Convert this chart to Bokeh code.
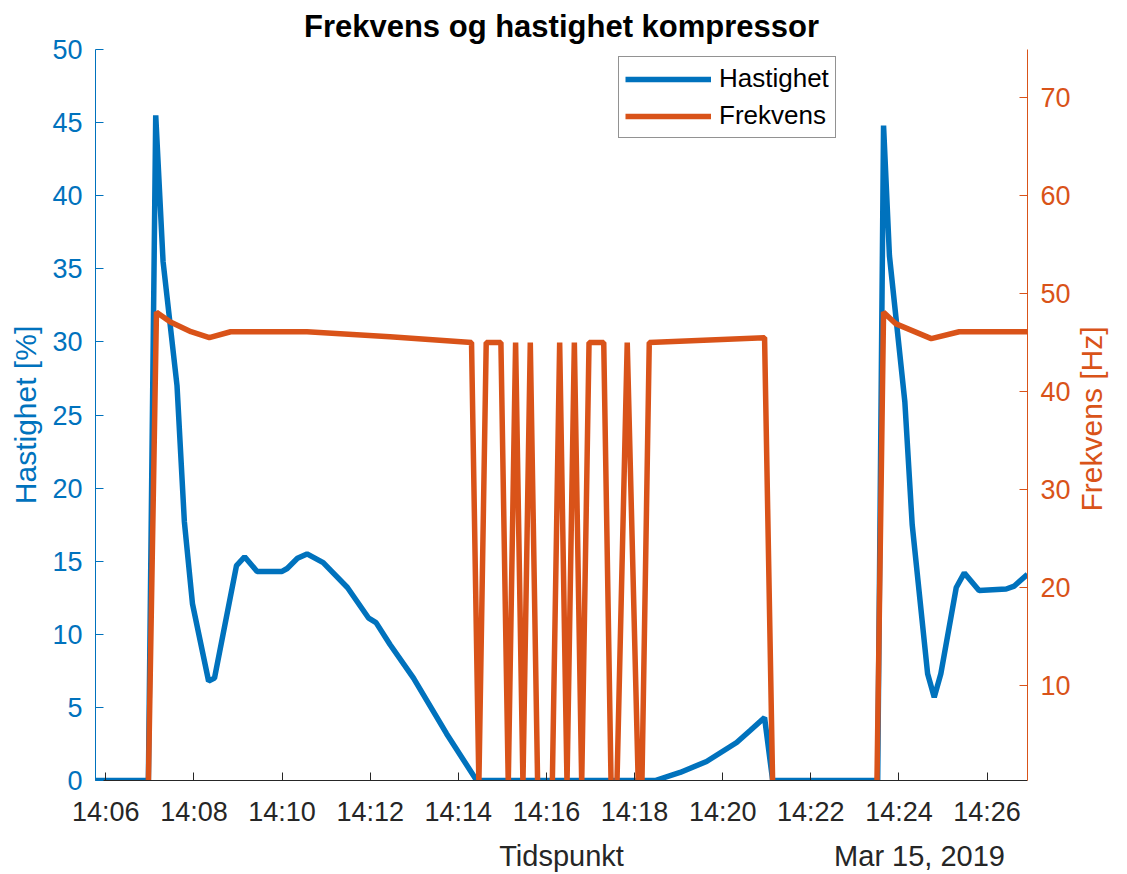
import math
import pandas as pd
from bokeh.plotting import figure
from bokeh.models import (Range1d, LinearAxis, FixedTicker, DatetimeTickFormatter,
                          Legend, LegendItem)
from bokeh.embed import file_html
from bokeh.resources import INLINE

DAY = "2019-03-15 "

# Compressor speed [%] (left axis)
hastighet_tid = ["14:05:46", "14:06:58", "14:07:08", "14:07:18", "14:07:37", "14:07:47",
                 "14:07:58", "14:08:20", "14:08:28", "14:08:58", "14:09:09", "14:09:26",
                 "14:10:00", "14:10:07", "14:10:21", "14:10:34", "14:10:56", "14:11:29",
                 "14:11:58", "14:12:08", "14:12:27", "14:12:59", "14:13:44", "14:14:25",
                 "14:18:28", "14:19:02", "14:19:38", "14:20:19", "14:20:37", "14:20:57",
                 "14:21:08", "14:23:31", "14:23:39", "14:23:47", "14:24:08", "14:24:18",
                 "14:24:39", "14:24:48", "14:24:57", "14:25:18", "14:25:29", "14:25:49",
                 "14:26:26", "14:26:37", "14:26:55"]
hastighet_pct = [0, 0, 45.5, 35.5, 27.0, 17.7,
                 12.1, 6.8, 7.0, 14.7, 15.3, 14.3,
                 14.3, 14.5, 15.2, 15.5, 14.9, 13.2,
                 11.1, 10.8, 9.3, 7.0, 3.2, 0,
                 0, 0.55, 1.3, 2.6, 3.4, 4.3,
                 0, 0, 44.8, 35.9, 25.9, 17.5,
                 7.3, 5.7, 7.3, 13.2, 14.2, 13.0,
                 13.1, 13.3, 14.1]

# Compressor frequency [Hz] (right axis)
frekvens_tid = ["14:05:46", "14:06:58", "14:07:09", "14:07:28", "14:07:56", "14:08:21",
                "14:08:50", "14:09:17", "14:10:34", "14:12:27", "14:14:18", "14:14:28",
                "14:14:38", "14:14:58", "14:15:08", "14:15:18", "14:15:28", "14:15:38",
                "14:15:48", "14:16:08", "14:16:18", "14:16:28", "14:16:38", "14:16:48",
                "14:16:58", "14:17:18", "14:17:28", "14:17:36", "14:17:50", "14:18:05",
                "14:18:10", "14:18:20", "14:20:57", "14:21:08", "14:23:30", "14:23:39",
                "14:23:56", "14:24:44", "14:25:22", "14:26:55"]
frekvens_hz = [0, 0, 48.1, 47.1, 46.1, 45.5,
               46.1, 46.1, 46.1, 45.6, 45.0, 0,
               45.0, 45.0, 0, 45.0, 0, 45.0,
               0, 0, 45.0, 0, 45.0, 0,
               45.0, 45.0, 0, 0, 45.0, 0,
               0, 45.0, 45.5, 0, 0, 48.1,
               46.9, 45.4, 46.1, 46.1]

x_ticks = ["14:06", "14:08", "14:10", "14:12", "14:14", "14:16",
           "14:18", "14:20", "14:22", "14:24", "14:26"]
left_ticks = [0, 5, 10, 15, 20, 25, 30, 35, 40, 45, 50]
right_ticks = [10, 20, 30, 40, 50, 60, 70]

BLUE = "#0072BD"
ORANGE = "#D95319"
DARK = "#262626"
FONT = "Liberation Sans"

T_START, T_END = "14:05:46", "14:26:55"
HZ_MIN, HZ_MAX = 0.34, 74.88


def ts(hms):
    return pd.Timestamp(DAY + hms)


def ms(hms):
    return int(ts(hms).value // 10**6)


h_x = [ts(t) for t in hastighet_tid]
f_x = [ts(t) for t in frekvens_tid]
tick_ms = [ms(t + ":00") for t in x_ticks]

p = figure(width=1127, height=874, x_axis_type="datetime",
           output_backend="svg", toolbar_location=None,
           x_range=Range1d(ts(T_START), ts(T_END)),
           y_range=Range1d(0, 50),
           min_border_left=95, min_border_right=99,
           min_border_top=47, min_border_bottom=94,
           title="Frekvens og hastighet kompressor")
p.outline_line_color = None
p.xgrid.visible = False
p.ygrid.visible = False
p.background_fill_color = "white"
p.border_fill_color = "white"

p.title.align = "center"
p.title.text_font = FONT
p.title.text_font_size = "31px"
p.title.text_font_style = "bold"
p.title.text_color = "#000000"
p.title.standoff = 12

p.extra_y_ranges = {"hz": Range1d(HZ_MIN, HZ_MAX)}

# x axis with HH:MM ticks
xa = p.xaxis[0]
xa.ticker = FixedTicker(ticks=tick_ms)
fmt = "%H:%M"
xa.formatter = DatetimeTickFormatter(seconds=fmt, minsec=fmt, minutes=fmt,
                                     hourmin=fmt, hours=fmt)

# second row under the time axis: axis title in the middle, date on the right
mid_ms = (ms(T_START) + ms(T_END)) // 2
date_ms = ms("14:24:28")
xa2 = LinearAxis(ticker=FixedTicker(ticks=[mid_ms, date_ms]),
                 major_label_overrides={mid_ms: "Tidspunkt", date_ms: "Mar 15, 2019"})
p.add_layout(xa2, "below")

# left axis
ya = p.yaxis[0]
ya.ticker = FixedTicker(ticks=left_ticks)
ya.axis_label = "Hastighet [%]"

# right axis
yr = LinearAxis(y_range_name="hz", ticker=FixedTicker(ticks=right_ticks))
p.add_layout(yr, "right")

for ax, col in ((xa, DARK), (ya, BLUE), (yr, ORANGE)):
    ax.axis_line_color = col
    ax.axis_line_width = 1
    ax.major_tick_line_color = col
    ax.major_tick_in = 8
    ax.major_tick_out = 0
    ax.minor_tick_line_color = None
    ax.major_label_text_color = col
    ax.major_label_text_font = FONT
    ax.major_label_text_font_size = "27px"
    ax.axis_label_text_color = col
    ax.axis_label_text_font = FONT
    ax.axis_label_text_font_size = "30px"
    ax.axis_label_text_font_style = "normal"

# right-hand title, reading bottom to top, starting a little below mid-height
hz_label_at = HZ_MIN + (HZ_MAX - HZ_MIN) * 0.368
yr2 = LinearAxis(y_range_name="hz", ticker=FixedTicker(ticks=[hz_label_at]),
                 major_label_overrides={hz_label_at: "Frekvens [Hz]"},
                 major_label_orientation=math.pi / 2)
p.add_layout(yr2, "right")

for ax, col in ((xa2, DARK), (yr2, ORANGE)):
    ax.axis_line_color = None
    ax.major_tick_line_color = None
    ax.minor_tick_line_color = None
    ax.major_label_text_color = col
    ax.major_label_text_font = FONT

xa2.major_label_text_font_size = "29px"
xa2.major_label_standoff = 4
yr2.major_label_text_font_size = "30px"
yr2.major_label_standoff = 12

xa.major_label_standoff = 16
ya.major_label_standoff = 13
ya.axis_label_standoff = 7
yr.major_label_standoff = 13

r_h = p.line(h_x, hastighet_pct, line_color=BLUE, line_width=5.5)
r_f = p.line(f_x, frekvens_hz, line_color=ORANGE, line_width=5.5, y_range_name="hz")

legend = Legend(items=[LegendItem(label="Hastighet", renderers=[r_h]),
                       LegendItem(label="Frekvens", renderers=[r_f])],
                location=(523, 642), orientation="vertical",
                padding=6, spacing=6, margin=0,
                glyph_width=86, glyph_height=30, label_height=30,
                label_standoff=8,
                label_text_font=FONT, label_text_font_size="26px",
                label_text_color="#000000",
                border_line_color=DARK, border_line_width=1,
                background_fill_color="white", background_fill_alpha=1)
p.add_layout(legend)

open("out.html", "w").write(file_html(p, INLINE))
